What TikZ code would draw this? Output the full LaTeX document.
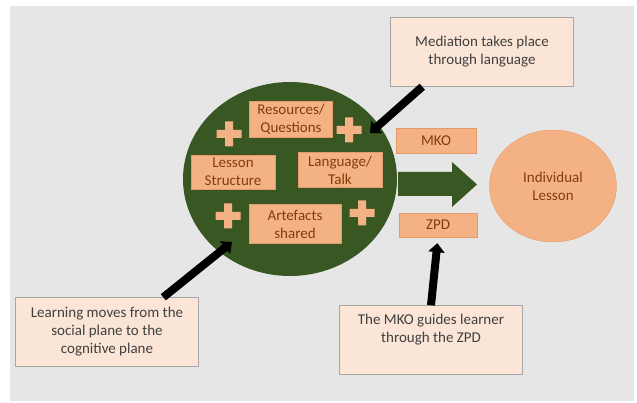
\documentclass[tikz,border=0pt]{standalone}
\usepackage{fontspec}
\setmainfont{Carlito}
\usetikzlibrary{arrows.meta,positioning,shapes.geometric}
\definecolor{bggrey}{HTML}{E7E6E6}
\definecolor{darkgreen}{HTML}{385723}
\definecolor{orangebox}{HTML}{F4B183}
\definecolor{orangeedge}{HTML}{E39A68}
\definecolor{brownred}{HTML}{843C0C}
\definecolor{notefill}{HTML}{FBE5D6}
\definecolor{noteedge}{HTML}{A6A6A6}
\definecolor{notetext}{HTML}{404040}
\tikzset{idea/.style={rectangle,fill=orangebox,draw=orangeedge,text=brownred,align=center,inner sep=0pt}}
\tikzset{note/.style={rectangle,fill=notefill,draw=noteedge,text=notetext,align=center,minimum width=183pt,minimum height=69pt,inner sep=0pt}}
\tikzset{pointer/.style={line width=8pt,-{Triangle[length=9pt,width=16pt]}}}
\tikzset{plus/.pic={\fill[orangebox] (-12.5,-4) rectangle (12.5,4) (-4,-12.5) rectangle (4,12.5);}}

\begin{document}
\begin{tikzpicture}[x=1pt,y=-1pt,font=\fontsize{15}{18}\selectfont]
\useasboundingbox (0,0) rectangle (637,403);
\fill[bggrey] (10,6) rectangle (634,401);
% social plane
\node (group) [ellipse,fill=darkgreen,minimum width=214pt,minimum height=194pt,inner sep=0pt] at (290,179) {};
\node (res) [idea,minimum width=83pt,minimum height=36pt] at (291,119) {Resources/\\Questions};
\node (struct) [idea,minimum width=84pt,minimum height=34pt] at (233,172) {Lesson\\Structure};
\node (talk) [idea,minimum width=84pt,minimum height=35pt] at (340,170) {Language/\\Talk};
\node (art) [idea,minimum width=92pt,minimum height=39pt] at (295,224) {Artefacts\\shared};
\pic at (229,134) {plus};
\pic at (349,130) {plus};
\pic at (228,216) {plus};
\pic at (362,213) {plus};
% towards the individual
\node (mko) [idea,minimum width=80pt,minimum height=25pt] at (436,141) {MKO};
\node (zpd) [idea,minimum width=78pt,minimum height=24pt] at (438,225) {ZPD};
\fill[darkgreen] (398,172) -- (452,172) -- (452,162) -- (477,184.5) -- (452,207) -- (452,196) -- (398,196) -- cycle;
\node (lesson) [ellipse,fill=orangebox,draw=orangeedge,text=brownred,align=center,minimum width=127pt,minimum height=112pt,inner sep=0pt] at (553,186) {Individual\\Lesson};
% notes
\node (med) [note] at (482,52) {Mediation takes place\\through language};
\node (learn) [note] at (107,332) {Learning moves from the\\social plane to the\\cognitive plane};
\node (guide) [note] at (431,340) {The MKO guides learner\\through the ZPD\\ \strut};
\coordinate (medtip) at (370,133);
\coordinate (learntip) at (232,242);
%
\draw[pointer] ([xshift=32pt]med.south west) -- (medtip);
\draw[pointer] ([xshift=148pt]learn.north west) -- (learntip);
\draw[pointer,shorten >=6pt] (guide.north) -- (zpd.south);
\end{tikzpicture}
\end{document}
